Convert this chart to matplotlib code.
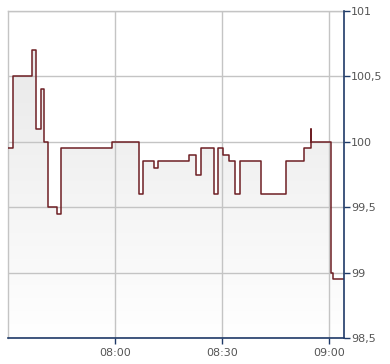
import matplotlib
matplotlib.use("Agg")
import matplotlib.pyplot as plt
import matplotlib.dates as mdates
from matplotlib.ticker import FuncFormatter
import numpy as np
import pandas as pd

# step series (time, price)
times = ["07:30:00", "07:31:24", "07:36:42", "07:37:51", "07:39:15", "07:40:06",
         "07:41:12", "07:43:42", "07:44:54", "07:59:12", "08:06:42", "08:07:51",
         "08:10:54", "08:12:03", "08:20:45", "08:22:42", "08:24:06", "08:27:45",
         "08:28:54", "08:30:18", "08:31:57", "08:33:36", "08:35:03", "08:40:54",
         "08:47:54", "08:52:59", "08:54:57", "08:55:00", "09:00:36", "09:01:06",
         "09:04:12"]
prices = [99.95, 100.5, 100.7, 100.1, 100.4, 100.0,
          99.5, 99.45, 99.95, 100.0, 99.6, 99.85,
          99.8, 99.85, 99.9, 99.75, 99.95, 99.6,
          99.95, 99.9, 99.85, 99.6, 99.85, 99.6,
          99.85, 99.95, 100.1, 100.0, 99.0, 98.95,
          98.95]
y_ticks = [98.5, 99, 99.5, 100, 100.5, 101]
x_ticks = ["08:00", "08:30", "09:00"]

day = "2020-01-02 "
t = pd.to_datetime([day + s for s in times])
y_min, y_max = 98.5, 101

fig = plt.figure(figsize=(3.9, 3.64), dpi=100)
ax = fig.add_axes([8 / 390, 1 - 338 / 364, 336 / 390, 327 / 364])

navy = "#1f3a68"
grid_c = "#c4c4c4"
line_c = "#6e1f24"

ax.set_xlim(t[0], t[-1])
ax.set_ylim(y_min, y_max)

# gradient fill under the step line
poly = ax.fill_between(t, prices, y_min, step="post", color="none", lw=0)
grad = np.linspace(0, 1, 256).reshape(-1, 1)
from matplotlib.colors import LinearSegmentedColormap
cmap = LinearSegmentedColormap.from_list("g", ["#e6e6e6", "#ffffff"])
x0, x1 = mdates.date2num(t[0]), mdates.date2num(t[-1])
im = ax.imshow(grad, cmap=cmap, aspect="auto", extent=[x0, x1, y_min, y_max],
               origin="upper", zorder=1)
im.set_clip_path(poly.get_paths()[0], transform=ax.transData)
ax.set_xlim(t[0], t[-1])
ax.set_ylim(y_min, y_max)

ax.step(t, prices, where="post", color=line_c, lw=1.1, zorder=3)

# grid
ax.set_yticks(y_ticks)
xt = pd.to_datetime([day + s for s in x_ticks])
ax.set_xticks(xt)
ax.grid(True, color=grid_c, lw=1, zorder=2)
ax.set_axisbelow(False)
for gl in ax.get_xgridlines() + ax.get_ygridlines():
    gl.set_zorder(2)

ax.xaxis.set_major_formatter(mdates.DateFormatter("%H:%M"))
ax.yaxis.set_major_formatter(FuncFormatter(lambda v, p: ("%g" % v).replace(".", ",")))
ax.yaxis.tick_right()

for s in ["left", "top"]:
    ax.spines[s].set_color(grid_c)
    ax.spines[s].set_linewidth(1)
for s in ["right", "bottom"]:
    ax.spines[s].set_color(navy)
    ax.spines[s].set_linewidth(1.2)
    ax.spines[s].set_zorder(4)

ax.tick_params(axis="both", colors=navy, length=4, width=1, labelsize=8,
               labelcolor="#555555", pad=1, direction="out")
ax.tick_params(axis="x", pad=3)

fig.savefig("out.png", dpi=100)
